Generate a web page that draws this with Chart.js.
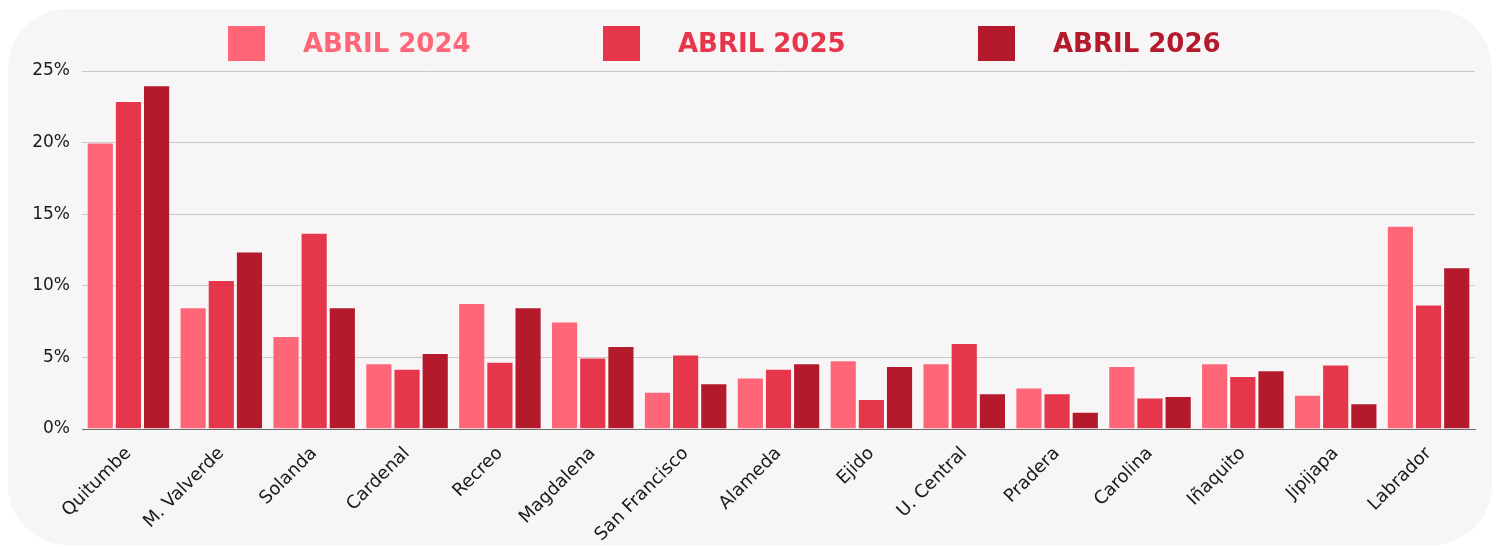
<!DOCTYPE html>
<html>
<head>
<meta charset="utf-8">
<script src="https://cdn.jsdelivr.net/npm/chart.js@4"></script>
<style>
  html, body { margin: 0; padding: 0; background: #ffffff; }
  #card {
    position: absolute; left: 8px; top: 9px; width: 1484px; height: 536px;
    background: #f7f5f6; border-radius: 60px;
  }
  #wrap { position: absolute; left: 0; top: 0; width: 1501px; height: 547px; }
</style>
</head>
<body>
<div id="card"></div>
<div id="wrap"><canvas id="myChart" width="1501" height="547"></canvas></div>
<script>
const categories = ["Quitumbe", "M. Valverde", "Solanda", "Cardenal", "Recreo", "Magdalena",
  "San Francisco", "Alameda", "Ejido", "U. Central", "Pradera", "Carolina", "Iñaquito",
  "Jipijapa", "Labrador"];
const seriesNames = ["ABRIL 2024", "ABRIL 2025", "ABRIL 2026"];
const abril2024 = [20.0, 8.5, 6.5, 4.6, 8.8, 7.5, 2.6, 3.6, 4.8, 4.6, 2.9, 4.4, 4.6, 2.4, 14.2];
const abril2025 = [22.9, 10.4, 13.7, 4.2, 4.7, 5.0, 5.2, 4.2, 2.1, 6.0, 2.5, 2.2, 3.7, 4.5, 8.7];
const abril2026 = [24.0, 12.4, 8.5, 5.3, 8.5, 5.8, 3.2, 4.6, 4.4, 2.5, 1.2, 2.3, 4.1, 1.8, 11.3];
const colors = ["#ff6779", "#e5364b", "#b4192c"];

const FONT = "'DejaVu Sans', sans-serif";

// legend drawn by hand so the gap between box and text matches
const legendPlugin = {
  id: "customLegend",
  afterDraw(chart) {
    const ctx = chart.ctx;
    ctx.save();
    ctx.font = "bold 26px " + FONT;
    ctx.textBaseline = "middle";
    seriesNames.forEach((name, i) => {
      const x = 228 + i * 375;
      ctx.fillStyle = colors[i];
      ctx.fillRect(x, 26, 37, 35);
      ctx.fillText(name, x + 75, 45);
    });
    ctx.restore();
  }
};

const ctx = document.getElementById("myChart").getContext("2d");
const myChart = new Chart(ctx, {
  type: "bar",
  data: {
    labels: categories,
    datasets: [
      { label: seriesNames[0], data: abril2024, backgroundColor: colors[0] },
      { label: seriesNames[1], data: abril2025, backgroundColor: colors[1] },
      { label: seriesNames[2], data: abril2026, backgroundColor: colors[2] },
    ],
  },
  options: {
    responsive: false,
    animation: false,
    layout: { padding: { left: 0, right: 26, top: 71, bottom: 0 } },
    datasets: {
      bar: {
        categoryPercentage: 0.91,
        barPercentage: 0.965,
        borderWidth: 1,
        borderColor: "rgba(255,255,255,0.45)",
      },
    },
    plugins: {
      legend: { display: false },
      tooltip: { enabled: false },
    },
    scales: {
      x: {
        grid: { display: false, drawTicks: false },
        border: { display: true, color: "#6b6b6b", width: 1 },
        ticks: {
          color: "#1a1a1a",
          font: { family: FONT, size: 18 },
          minRotation: 45,
          maxRotation: 45,
          padding: 14,
        },
        afterFit(scale) { scale.height = 118; },
      },
      y: {
        min: 0,
        max: 25,
        grid: { color: "#c9c7c8", lineWidth: 1, drawTicks: false },
        border: { display: false },
        ticks: {
          stepSize: 5,
          color: "#1a1a1a",
          font: { family: FONT, size: 17 },
          padding: 12,
          callback: v => v + "%",
        },
        afterFit(scale) { scale.width = 82; },
      },
    },
  },
  plugins: [legendPlugin],
});
</script>
</body>
</html>
